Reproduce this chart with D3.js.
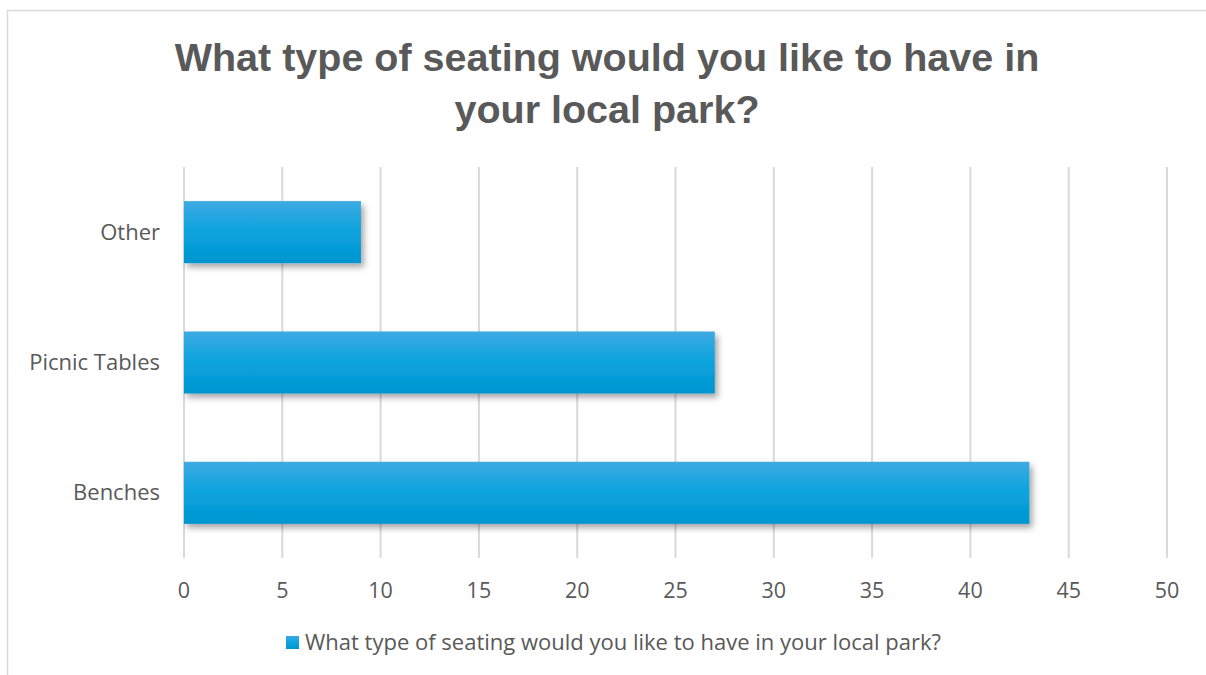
<!DOCTYPE html>
<html><head><meta charset="utf-8">
<script src="https://cdn.jsdelivr.net/npm/d3@7"></script>
<style>body{margin:0;background:#fff;}svg{display:block;}</style>
</head><body>
<svg id="c" width="1206" height="675"></svg>
<script>
const categories = ["Other", "Picnic Tables", "Benches"];
const values = [9, 27, 43];
const ticks = [0, 5, 10, 15, 20, 25, 30, 35, 40, 45, 50];
const titleLines = ["What type of seating would you like to have in", "your local park?"];
const seriesName = "What type of seating would you like to have in your local park?";

const svg = d3.select("#c");
const font = "'Open Sans', 'Liberation Sans', Arial, sans-serif";
const txt = "#595959";

svg.append("rect").attr("x", 7.5).attr("y", 10.5).attr("width", 1210).attr("height", 680)
  .attr("fill", "#fff").attr("stroke", "#d9d9d9").attr("stroke-width", 1.5);

const defs = svg.append("defs");
const g = defs.append("linearGradient").attr("id", "bg").attr("x1", 0).attr("y1", 0).attr("x2", 0).attr("y2", 1);
g.append("stop").attr("offset", "0%").attr("stop-color", "#3eaae2");
g.append("stop").attr("offset", "50%").attr("stop-color", "#0ba3de");
g.append("stop").attr("offset", "100%").attr("stop-color", "#0095d0");
const f = defs.append("filter").attr("id", "sh").attr("x", "-10%").attr("y", "-20%").attr("width", "130%").attr("height", "160%");
f.append("feDropShadow").attr("dx", 3).attr("dy", 4).attr("stdDeviation", 3).attr("flood-color", "#000").attr("flood-opacity", 0.35);

const x = d3.scaleLinear().domain([0, 50]).range([184, 1167]);
const y = d3.scaleBand().domain(categories).range([167, 558]).paddingInner(0.524).paddingOuter(0.262);

svg.append("g").selectAll("line").data(ticks).join("line")
  .attr("x1", d => x(d)).attr("x2", d => x(d)).attr("y1", 167).attr("y2", 558)
  .attr("stroke", "#d9d9d9").attr("stroke-width", 2);

svg.append("g").selectAll("rect").data(values).join("rect")
  .attr("x", x(0)).attr("y", (d, i) => y(categories[i]))
  .attr("width", d => x(d) - x(0)).attr("height", y.bandwidth())
  .attr("fill", "url(#bg)").attr("filter", "url(#sh)");

svg.append("g").selectAll("text").data(ticks).join("text")
  .attr("x", d => x(d)).attr("y", 598).attr("text-anchor", "middle")
  .attr("font-family", font).attr("font-size", 21.5).attr("fill", txt).text(d => d);

svg.append("g").selectAll("text").data(categories).join("text")
  .attr("x", 160).attr("y", d => y(d) + y.bandwidth() / 2 + 7.5).attr("text-anchor", "end")
  .attr("font-family", font).attr("font-size", 22).attr("fill", txt).text(d => d);

svg.append("g").selectAll("text").data(titleLines).join("text")
  .attr("x", 607).attr("y", (d, i) => 71 + i * 52).attr("text-anchor", "middle")
  .attr("font-family", "'Liberation Sans', Arial, sans-serif").attr("font-weight", "bold")
  .attr("font-size", 39.5).attr("fill", txt).text(d => d);

svg.append("rect").attr("x", 286).attr("y", 636).attr("width", 13).attr("height", 13).attr("fill", "url(#bg)");
svg.append("text").attr("x", 305).attr("y", 650).attr("font-family", font).attr("font-size", 22)
  .attr("fill", txt).text(seriesName);
</script>
</body></html>
